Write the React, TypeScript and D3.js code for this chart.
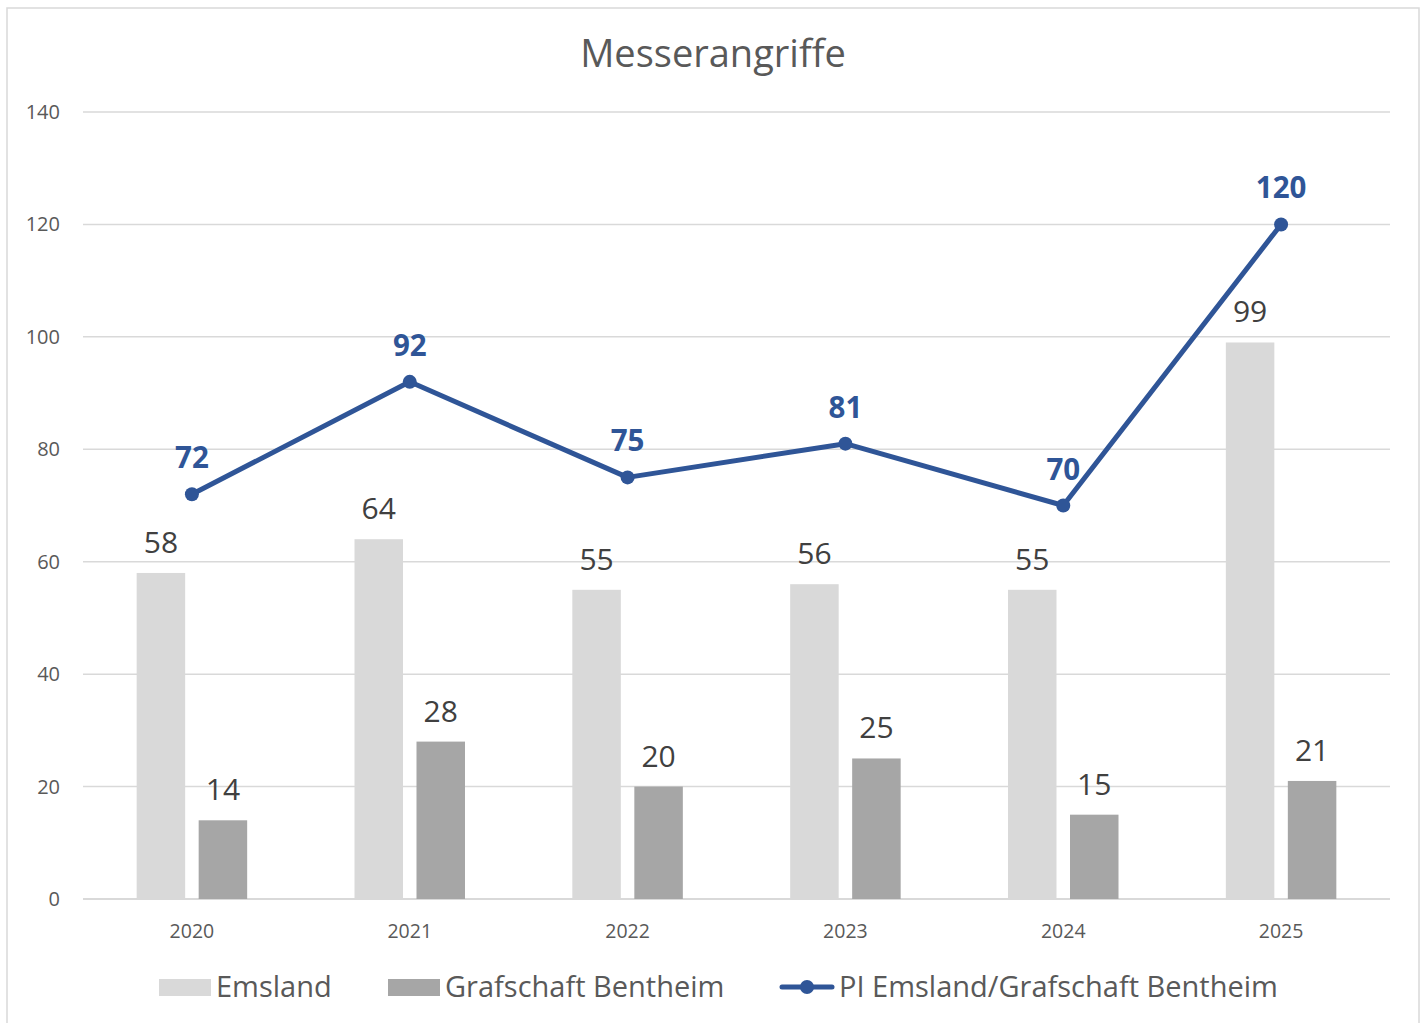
import React from "react";
import * as d3 from "d3";

const years = ["2020", "2021", "2022", "2023", "2024", "2025"];
const emsland = [58, 64, 55, 56, 55, 99];
const grafschaft = [14, 28, 20, 25, 15, 21];
const pi = [72, 92, 75, 81, 70, 120];
const yTicks = [0, 20, 40, 60, 80, 100, 120, 140];

const FONT = "'Open Sans', 'Noto Sans', sans-serif";
const C_EMS = "#d9d9d9";
const C_GRAF = "#a6a6a6";
const C_LINE = "#2f5597";
const C_TEXT = "#595959";
const C_LABEL = "#404040";

export default function App() {
  const W = 1424, H = 1023;
  const left = 83, right = 1390, top = 112, bottom = 899;
  const x = d3.scaleBand<string>().domain(years).range([left, right]).padding(0);
  const y = d3.scaleLinear().domain([0, 140]).range([bottom, top]);
  const bw = 48.5;
  const off = 31;
  const cx = (i: number) => (x(years[i]) as number) + x.bandwidth() / 2;
  const line = d3.line<number>().x((_, i) => cx(i)).y((d) => y(d));

  return (
    <svg width={W} height={H} style={{ position: "absolute", left: 0, top: 0 }}>
      <rect x={0} y={0} width={W} height={H} fill="#fff" />
      <rect x={7} y={8} width={1412} height={1030} fill="#fff" stroke="#d9d9d9" strokeWidth={1.5} />
      <text x={713} y={67} textAnchor="middle" fontFamily={FONT} fontSize={38} fill={C_TEXT}>Messerangriffe</text>
      {yTicks.map((t) => (
        <g key={t}>
          <line x1={left} x2={right} y1={y(t)} y2={y(t)} stroke="#d9d9d9" strokeWidth={t === 0 ? 2 : 1.5} />
          <text x={60} y={y(t) + 7} textAnchor="end" fontFamily={FONT} fontSize={20} fill={C_TEXT}>{t}</text>
        </g>
      ))}
      {years.map((yr, i) => (
        <g key={yr}>
          <rect x={cx(i) - off - bw / 2} y={y(emsland[i])} width={bw} height={y(0) - y(emsland[i])} fill={C_EMS} />
          <rect x={cx(i) + off - bw / 2} y={y(grafschaft[i])} width={bw} height={y(0) - y(grafschaft[i])} fill={C_GRAF} />
          <text x={cx(i) - off} y={y(emsland[i]) - 20} textAnchor="middle" fontFamily={FONT} fontSize={30} fill={C_LABEL}>{emsland[i]}</text>
          <text x={cx(i) + off} y={y(grafschaft[i]) - 20} textAnchor="middle" fontFamily={FONT} fontSize={30} fill={C_LABEL}>{grafschaft[i]}</text>
          <text x={cx(i)} y={938} textAnchor="middle" fontFamily={FONT} fontSize={19.5} fill={C_TEXT}>{yr}</text>
        </g>
      ))}
      <path d={line(pi) || ""} fill="none" stroke={C_LINE} strokeWidth={5} strokeLinejoin="round" strokeLinecap="round" />
      {pi.map((v, i) => (
        <g key={i}>
          <circle cx={cx(i)} cy={y(v)} r={7} fill={C_LINE} />
          <text x={cx(i)} y={y(v) - 26} textAnchor="middle" fontFamily={FONT} fontSize={29.5} fontWeight="bold" fill={C_LINE}>{v}</text>
        </g>
      ))}
      <g fontFamily={FONT} fontSize={29} fill={C_TEXT}>
        <rect x={159} y={979} width={52} height={17} fill={C_EMS} />
        <text x={216} y={997}>Emsland</text>
        <rect x={388} y={979} width={52} height={17} fill={C_GRAF} />
        <text x={445} y={997}>Grafschaft Bentheim</text>
        <line x1={782} x2={832} y1={987} y2={987} stroke={C_LINE} strokeWidth={5} strokeLinecap="round" />
        <circle cx={807} cy={987} r={7} fill={C_LINE} />
        <text x={839} y={997}>PI Emsland/Grafschaft Bentheim</text>
      </g>
    </svg>
  );
}
